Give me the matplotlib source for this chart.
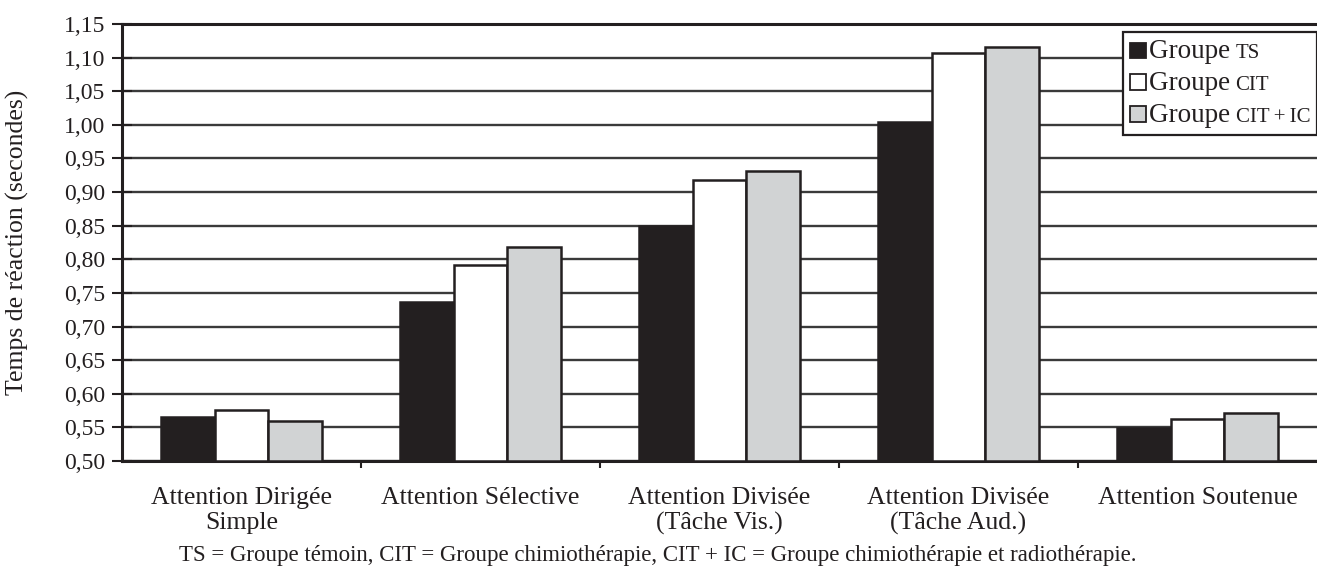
import numpy as np
import matplotlib
matplotlib.use("Agg")
import matplotlib.pyplot as plt
from matplotlib.offsetbox import (AnchoredOffsetbox, VPacker, HPacker,
                                  TextArea, DrawingArea)
from matplotlib.patches import Rectangle

plt.rcParams['font.family'] = ['Liberation Serif', 'DejaVu Serif']

categories = ["Attention Dirigée\nSimple", "Attention Sélective",
              "Attention Divisée\n(Tâche Vis.)", "Attention Divisée\n(Tâche Aud.)",
              "Attention Soutenue"]
groups = ["TS", "CIT", "CIT\u2009+\u2009IC"]
ts_values = [0.565, 0.737, 0.849, 1.004, 0.549]
cit_values = [0.576, 0.792, 0.918, 1.107, 0.563]
citic_values = [0.560, 0.818, 0.931, 1.116, 0.572]
yticks = [0.50, 0.55, 0.60, 0.65, 0.70, 0.75, 0.80, 0.85, 0.90, 0.95,
          1.00, 1.05, 1.10, 1.15]
footnote = ("TS = Groupe témoin, CIT = Groupe chimiothérapie, "
            "CIT + IC = Groupe chimiothérapie et radiothérapie.")

colors = ["#231f20", "#ffffff", "#d1d3d4"]
ink = "#231f20"

fig = plt.figure(figsize=(13.17, 5.72), dpi=100)
ax = fig.add_axes([122 / 1317, 1 - 461 / 572, 1 - 122 / 1317, (461 - 24) / 572])

x = np.arange(len(categories))
w = 0.224
series = [ts_values, cit_values, citic_values]
for i, (vals, c, lab) in enumerate(zip(series, colors, groups)):
    ax.bar(x + (i - 1) * w, np.array(vals) - 0.5, width=w, bottom=0.5,
           color=c, edgecolor=ink, linewidth=1.8, label="Groupe " + lab, zorder=3)

ax.set_xlim(-0.5, len(categories) - 0.5)
ax.set_ylim(0.50, 1.15)
ax.set_yticks(yticks)
ax.set_yticklabels([f"{v:.2f}".replace(".", ",") for v in yticks], fontsize=17)
ax.set_xticks(x)
ax.set_xticklabels(categories, fontsize=18.5, linespacing=1.15)
ax.tick_params(axis='x', length=0, pad=19, labelcolor=ink)
ax.set_xticks(np.arange(0.5, len(categories) - 0.5, 1.0), minor=True)
ax.tick_params(axis='x', which='minor', length=5, width=1.5, color=ink, direction='out')
ax.tick_params(axis='y', length=14, width=1.5, color=ink, direction='inout', pad=5,
               labelcolor=ink)

ax.yaxis.grid(True, color="#3a3a3a", linewidth=1.7, zorder=0)
ax.set_axisbelow(True)
ax.spines['right'].set_visible(False)
for s in ['left', 'bottom', 'top']:
    ax.spines[s].set_color(ink)
    ax.spines[s].set_linewidth(2.2)

ax.set_ylabel("Temps de réaction (secondes)", fontsize=18.5, color=ink)
ax.yaxis.set_label_coords(-0.078, 0.5)

# legend with small-capital group abbreviations
rows = []
for c, lab in zip(colors, groups):
    da = DrawingArea(11, 11)
    da.add_artist(Rectangle((0, 0), 11, 11, facecolor=c, edgecolor=ink, linewidth=1.3))
    t1 = TextArea("Groupe\u2009", textprops=dict(fontsize=19.5, color=ink))
    t2 = TextArea(lab, textprops=dict(fontsize=15, color=ink))
    words = HPacker(children=[t1, t2], align="baseline", pad=0, sep=0)
    rows.append(HPacker(children=[da, words], align="baseline", pad=0, sep=2.5))
box = VPacker(children=rows, align="left", pad=0, sep=5)
leg = AnchoredOffsetbox(loc='upper right', child=box, pad=0.5, borderpad=0,
                        frameon=True, bbox_to_anchor=(1.0, 0.982),
                        bbox_transform=ax.transAxes)
leg.patch.set_boxstyle("square", pad=0)
leg.patch.set_edgecolor(ink)
leg.patch.set_linewidth(1.6)
leg.set_zorder(5)
ax.add_artist(leg)

fig.text(658 / 1317, 1 - 555 / 572, footnote, ha='center', va='center',
         fontsize=16.5, color=ink)

fig.savefig("out.png", dpi=100)
